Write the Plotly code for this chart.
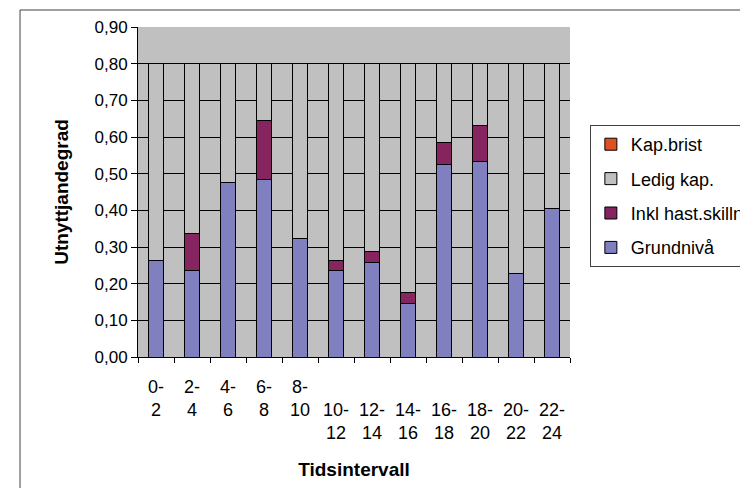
import plotly.graph_objects as go

pad = '<span style="color:rgba(0,0,0,0)">.</span><br>'
categories = ["0-<br>2", "2-<br>4", "4-<br>6", "6-<br>8", "8-<br>10",
              pad + "10-<br>12", pad + "12-<br>14", pad + "14-<br>16", pad + "16-<br>18",
              pad + "18-<br>20", pad + "20-<br>22", pad + "22-<br>24"]
grundniva = [0.263, 0.237, 0.475, 0.484, 0.322, 0.237, 0.257, 0.145, 0.524, 0.533, 0.228, 0.405]
inkl_hast = [0.0, 0.099, 0.0, 0.161, 0.0, 0.025, 0.030, 0.030, 0.061, 0.098, 0.0, 0.0]
total_cap = 0.80
ledig_kap = [round(total_cap - g - i, 3) for g, i in zip(grundniva, inkl_hast)]
kap_brist = [0.0] * 12
y_ticks = [0, 0.1, 0.2, 0.3, 0.4, 0.5, 0.6, 0.7, 0.8, 0.9]

font = "Liberation Sans, Arial, sans-serif"
line = dict(color="black", width=1)

fig = go.Figure()
series = [
    ("Grundnivå", grundniva, "#8080c0", "g1", 4),
    ("Inkl hast.skillnad", inkl_hast, "#862460", "g2", 3),
    ("Ledig kap.", ledig_kap, "#c0c0c0", "g3", 2),
    ("Kap.brist", kap_brist, "#e0501e", "g4", 1),
]
for name, vals, color, grp, rank in series:
    fig.add_trace(go.Bar(x=categories, y=vals, name=name, legendgroup=grp, legendrank=rank,
                         marker=dict(color=color, line=line), width=0.4))

fig.update_layout(
    barmode="stack",
    width=740, height=480,
    margin=dict(l=130, r=178, t=19, b=131, autoexpand=False),
    paper_bgcolor="white",
    plot_bgcolor="#c0c0c0",
    separators=", ",
    font=dict(family=font, size=17, color="black"),
    showlegend=True,
    legend=dict(x=1.046, y=0.703, xanchor="left", yanchor="top",
                traceorder="grouped", tracegroupgap=8,
                bordercolor="#404040", borderwidth=1, bgcolor="white",
                font=dict(family=font, size=18), itemwidth=30),
    xaxis=dict(type="category", showline=True, linecolor="black", linewidth=1,
               ticks="outside", tickson="boundaries", ticklen=5, tickcolor="black",
               showgrid=False, tickfont=dict(size=18), ticklabelstandoff=13,
               title=dict(text="<b>Tidsintervall</b>", font=dict(size=19), standoff=20)),
    yaxis=dict(range=[0, 0.9], tickvals=y_ticks, tickformat=".2f",
               showline=True, linecolor="black", linewidth=1,
               ticks="outside", ticklen=6, tickcolor="black",
               showgrid=True, gridcolor="black", gridwidth=1,
               zeroline=False, tickfont=dict(size=17),
               title=dict(text="<b>Utnyttjandegrad</b>", font=dict(size=19), standoff=20)),
    shapes=[dict(type="rect", xref="paper", yref="paper",
                 x0=-0.2731, x1=2.0, y0=-1.0, y1=1.0515,
                 line=dict(color="#404040", width=1), fillcolor="rgba(0,0,0,0)",
                 layer="below")],
)

fig.write_html("out.html")
